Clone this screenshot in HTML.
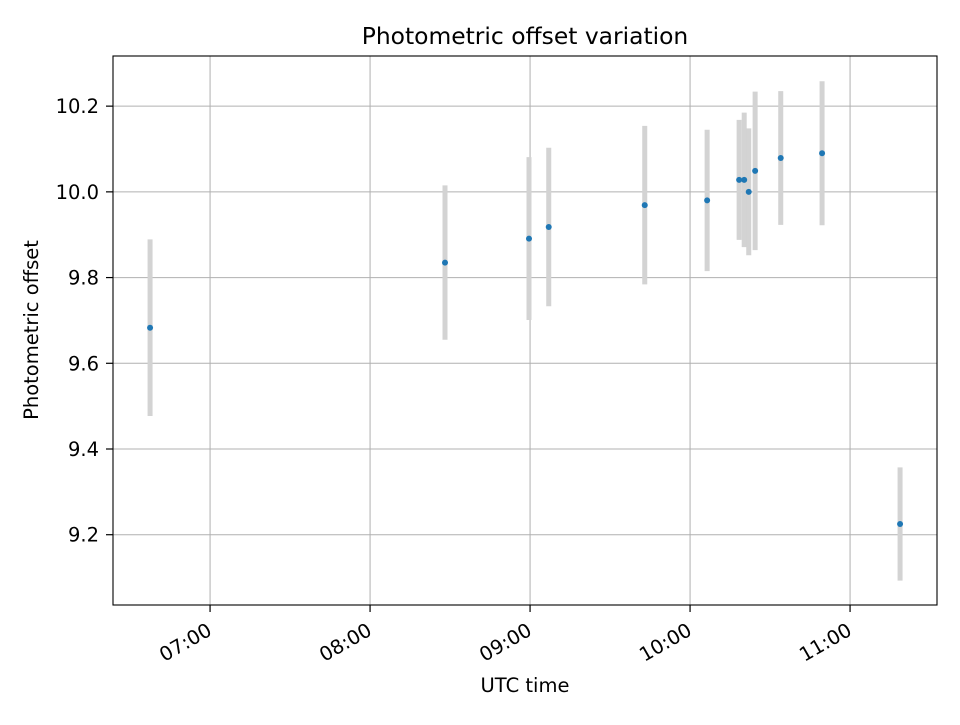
<!DOCTYPE html>
<html><head><meta charset="utf-8"><style>
body{margin:0;background:#fff}
svg{font-family:"DejaVu Sans","Liberation Sans",sans-serif}
</style></head><body>
<svg width="960" height="720">
<g id="grid"></g>
<g id="marks"></g>
<rect x="113" y="56" width="824" height="549" fill="none" stroke="#000" stroke-width="1.1"/>
<g id="axes"></g>
<text x="525" y="44" text-anchor="middle" font-size="23.4">Photometric offset variation</text>
<text x="525" y="692" text-anchor="middle" font-size="19.5">UTC time</text>
<text transform="translate(38,330) rotate(-90)" text-anchor="middle" font-size="19.5">Photometric offset</text>
</svg>
<script>
const times=["06:37:30","08:28:06","08:59:36","09:07:00","09:43:00","10:06:24","10:18:24","10:20:18","10:22:00","10:24:24","10:34:00","10:49:30","11:18:45"];
const values=[9.683,9.835,9.891,9.918,9.969,9.980,10.028,10.028,10.000,10.049,10.079,10.090,9.225];
const errors=[0.206,0.180,0.190,0.185,0.185,0.165,0.140,0.157,0.148,0.185,0.156,0.168,0.132];
const xTicks=["07:00","08:00","09:00","10:00","11:00"];
const yTicks=[9.2,9.4,9.6,9.8,10.0,10.2];
const NS="http://www.w3.org/2000/svg";
function mins(t){const p=t.split(":").map(Number);return (p[0]-7)*60+p[1]+(p[2]||0)/60;}
const X0=-36.4,X1=272.6,Y0=9.036,Y1=10.317;
function sx(m){return 113+(m-X0)/(X1-X0)*824;}
function sy(v){return 605-(v-Y0)/(Y1-Y0)*549;}
function mk(tag,at,par){const e=document.createElementNS(NS,tag);for(const k in at)e.setAttribute(k,at[k]);document.getElementById(par).appendChild(e);return e;}
xTicks.forEach(t=>{const x=sx(mins(t));
 const g=mk("line",{x1:x,x2:x,y1:56,y2:605,stroke:"#b0b0b0","stroke-width":1},"grid");
 
 const tk=mk("line",{x1:x,x2:x,y1:605,y2:612,stroke:"#000","stroke-width":1.2},"axes");
 
 const tx=mk("text",{x:0,y:0,transform:`translate(${x+3},${634}) rotate(-30)`,"text-anchor":"end","font-size":19.5},"axes");
 tx.textContent=t;});
yTicks.forEach(v=>{const y=sy(v);
 const g=mk("line",{x1:113,x2:937,y1:y,y2:y,stroke:"#b0b0b0","stroke-width":1},"grid");
 
 const tk=mk("line",{x1:106,x2:113,y1:y,y2:y,stroke:"#000","stroke-width":1.2},"axes");
 
 const tx=mk("text",{x:99,y:y+7,"text-anchor":"end","font-size":19.5},"axes");
 tx.textContent=v.toFixed(1);});
times.forEach((t,i)=>{const x=sx(mins(t));
 const e=mk("line",{x1:x,x2:x,y1:sy(values[i]+errors[i]),y2:sy(values[i]-errors[i]),stroke:"#d3d3d3","stroke-width":5},"marks");
 });
times.forEach((t,i)=>{const x=sx(mins(t));
 const c=mk("circle",{cx:x,cy:sy(values[i]),r:3,fill:"#1f77b4"},"marks");
 });
</script>
</body></html>
